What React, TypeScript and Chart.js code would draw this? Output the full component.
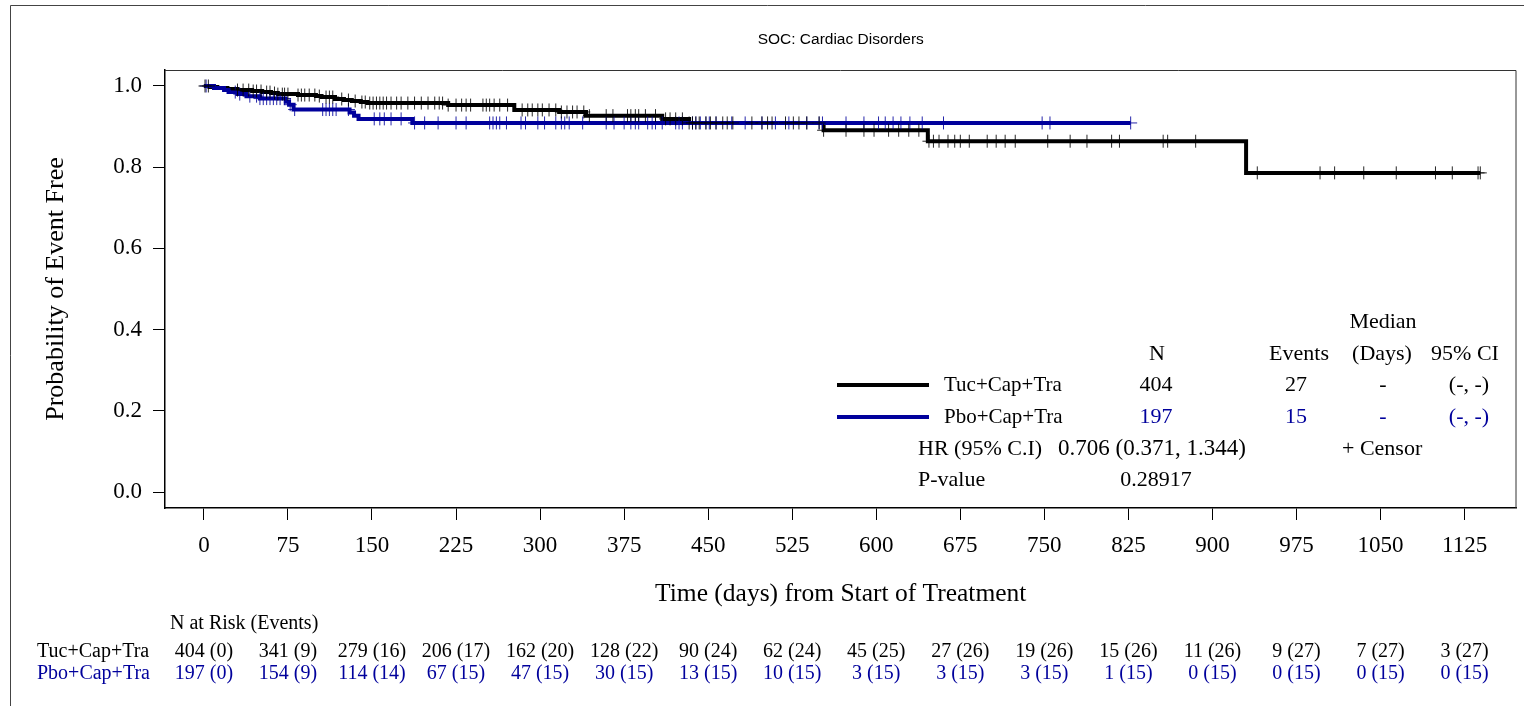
import React, { useEffect, useRef } from 'react';
import { Chart, registerables } from 'chart.js';

Chart.register(...registerables);

// ---------- text ----------
const TITLE = 'SOC: Cardiac Disorders';
const X_TITLE = 'Time (days) from Start of Treatment';
const Y_TITLE = 'Probability of Event Free';
const RISK_HEADER = 'N at Risk (Events)';
const groups = ['Tuc+Cap+Tra', 'Pbo+Cap+Tra'];
const groupColors = ['#000000', '#00009C'];

// ---------- axes ----------
const xTickValues = [0, 75, 150, 225, 300, 375, 450, 525, 600, 675, 750, 825, 900, 975, 1050, 1125];
const yTickValues = [0, 0.2, 0.4, 0.6, 0.8, 1.0];

// ---------- Kaplan-Meier steps (day, survival) ----------
const tucStepDays = [0, 5, 12, 21, 30, 43, 52, 60, 66, 84, 100, 105, 117, 125, 132, 140, 146, 218, 277, 317, 341, 409, 433, 553, 646, 930, 1139];
const tucStepSurv = [1.0, 0.9975, 0.995, 0.9926, 0.990, 0.9876, 0.985, 0.9826, 0.980, 0.9777, 0.9752, 0.9728, 0.9679, 0.9654, 0.963, 0.9605, 0.958, 0.953, 0.941, 0.936, 0.927, 0.919, 0.909, 0.891, 0.864, 0.786, 0.786];

const pboStepDays = [0, 9, 18, 22, 30, 38, 50, 73, 76, 80, 130, 134, 138, 186, 827];
const pboStepSurv = [1.0, 0.995, 0.990, 0.985, 0.980, 0.975, 0.969, 0.961, 0.954, 0.942, 0.935, 0.927, 0.919, 0.909, 0.909];

// ---------- censor times (days) ----------
const tucCensorDays = [1, 4, 30, 35, 40, 44, 47, 51, 56, 59, 63, 66, 70, 72, 75, 84, 87, 90, 94, 99, 103, 109, 112, 115, 123, 129, 135, 141, 144, 148, 151, 154, 157, 160, 163, 167, 172, 176, 182, 188, 194, 200, 206, 210, 213, 218, 225, 230, 234, 238, 249, 252, 255, 259, 264, 271, 284, 289, 293, 298, 302, 308, 314, 319, 324, 329, 333, 339, 344, 359, 365, 378, 381, 385, 388, 394, 403, 412, 416, 421, 427, 433, 436, 439, 442, 448, 452, 457, 463, 467, 472, 489, 498, 503, 507, 519, 526, 531, 538, 549, 553, 573, 589, 598, 611, 620, 629, 638, 647, 651, 656, 664, 670, 675, 683, 699, 707, 715, 724, 753, 773, 788, 810, 817, 856, 860, 885, 940, 996, 1009, 1035, 1064, 1099, 1114, 1137, 1139];
const pboCensorDays = [2, 28, 32, 41, 47, 50, 53, 56, 59, 62, 65, 68, 72, 77, 81, 106, 109, 112, 115, 118, 129, 152, 157, 161, 167, 176, 188, 197, 209, 225, 234, 255, 258, 261, 264, 270, 283, 287, 298, 304, 314, 319, 322, 326, 338, 359, 366, 375, 381, 385, 388, 396, 400, 403, 409, 421, 424, 427, 436, 439, 443, 448, 451, 457, 471, 483, 498, 510, 522, 538, 549, 552, 573, 589, 602, 608, 615, 622, 630, 641, 660, 748, 755, 827];

// ---------- number at risk table ----------
const riskTimes = xTickValues;
const tucAtRisk = [404, 341, 279, 206, 162, 128, 90, 62, 45, 27, 19, 15, 11, 9, 7, 3];
const tucEvents = [0, 9, 16, 17, 20, 22, 24, 24, 25, 26, 26, 26, 26, 27, 27, 27];
const pboAtRisk = [197, 154, 114, 67, 47, 30, 13, 10, 3, 3, 3, 1, 0, 0, 0, 0];
const pboEvents = [0, 9, 14, 15, 15, 15, 15, 15, 15, 15, 15, 15, 15, 15, 15, 15];

// ---------- legend table ----------
const legendN = ['404', '197'];
const legendEvents = ['27', '15'];
const legendMedian = ['-', '-'];
const legendCI = ['(-, -)', '(-, -)'];
const HR_LABEL = 'HR (95% C.I)';
const HR_TEXT = '0.706 (0.371, 1.344)';
const P_LABEL = 'P-value';
const P_TEXT = '0.28917';
const CENSOR_TEXT = '+ Censor';

const SERIF = "'Liberation Serif', 'Times New Roman', serif";
const SANS = "'Liberation Sans', Arial, sans-serif";

function survAt(days: number[], surv: number[], t: number): number {
  let s = surv[0];
  for (let i = 0; i < days.length; i++) {
    if (days[i] <= t) s = surv[i];
  }
  return s;
}

const decorPlugin = {
  id: 'decor',
  afterDraw(chart: any) {
    const ctx = chart.ctx as CanvasRenderingContext2D;
    const area = chart.chartArea;
    const xs = chart.scales.x;
    ctx.save();

    // outer frame
    ctx.strokeStyle = '#444';
    ctx.lineWidth = 1;
    ctx.beginPath();
    ctx.moveTo(10.5, 706);
    ctx.lineTo(10.5, 5.5);
    ctx.lineTo(1524, 5.5);
    ctx.stroke();

    // plot frame (top and right)
    ctx.strokeStyle = '#333';
    ctx.beginPath();
    ctx.moveTo(area.left, area.top + 0.5);
    ctx.lineTo(area.right - 0.5, area.top + 0.5);
    ctx.lineTo(area.right - 0.5, area.bottom);
    ctx.stroke();

    // title
    ctx.fillStyle = '#000';
    ctx.textBaseline = 'middle';
    ctx.textAlign = 'center';
    ctx.font = `15.5px ${SANS}`;
    ctx.fillText(TITLE, (area.left + area.right) / 2, 40);

    // axis titles
    ctx.font = `25.5px ${SERIF}`;
    ctx.fillText(X_TITLE, (area.left + area.right) / 2, 594);
    ctx.font = `26px ${SERIF}`;
    ctx.save();
    ctx.translate(56, (area.top + area.bottom) / 2);
    ctx.rotate(-Math.PI / 2);
    ctx.fillText(Y_TITLE, 0, 0);
    ctx.restore();

    // legend table
    ctx.font = `22px ${SERIF}`;
    ctx.textAlign = 'center';
    ctx.fillStyle = '#000';
    ctx.fillText('Median', 1383, 322);
    ctx.fillText('N', 1157, 354);
    ctx.fillText('Events', 1299, 354);
    ctx.fillText('(Days)', 1382, 354);
    ctx.fillText('95% CI', 1465, 354);
    const rowY = [385, 417];
    for (let g = 0; g < 2; g++) {
      const y = rowY[g];
      ctx.strokeStyle = groupColors[g];
      ctx.lineWidth = 4;
      ctx.beginPath();
      ctx.moveTo(837, y);
      ctx.lineTo(929, y);
      ctx.stroke();
      ctx.fillStyle = '#000';
      ctx.textAlign = 'left';
      ctx.font = `21px ${SERIF}`;
      ctx.fillText(groups[g], 944, y);
      ctx.font = `22px ${SERIF}`;
      ctx.fillStyle = groupColors[g];
      ctx.textAlign = 'center';
      ctx.fillText(legendN[g], 1156, y);
      ctx.fillText(legendEvents[g], 1296, y);
      ctx.fillText(legendMedian[g], 1383, y);
      ctx.fillText(legendCI[g], 1469, y);
    }
    ctx.fillStyle = '#000';
    ctx.textAlign = 'left';
    ctx.fillText(HR_LABEL, 918, 449);
    ctx.font = `23px ${SERIF}`;
    ctx.fillText(HR_TEXT, 1058, 449);
    ctx.font = `22px ${SERIF}`;
    ctx.fillText(CENSOR_TEXT, 1342, 449);
    ctx.fillText(P_LABEL, 918, 480);
    ctx.textAlign = 'center';
    ctx.fillText(P_TEXT, 1156, 480);

    // number at risk
    ctx.font = `20px ${SERIF}`;
    ctx.textAlign = 'left';
    ctx.fillStyle = '#000';
    ctx.fillText(RISK_HEADER, 170, 624);
    const riskRows = [
      { y: 652, n: tucAtRisk, e: tucEvents },
      { y: 674, n: pboAtRisk, e: pboEvents },
    ];
    ctx.font = `20px ${SERIF}`;
    riskRows.forEach((row, g) => {
      ctx.fillStyle = groupColors[g];
      ctx.textAlign = 'left';
      ctx.fillText(groups[g], 37, row.y);
      ctx.textAlign = 'center';
      riskTimes.forEach((t, i) => {
        ctx.fillText(`${row.n[i]} (${row.e[i]})`, xs.getPixelForValue(t), row.y);
      });
    });

    ctx.restore();
  },
};

export default function App() {
  const ref = useRef<HTMLCanvasElement>(null);

  useEffect(() => {
    const tucLine = tucStepDays.map((d, i) => ({ x: d, y: tucStepSurv[i] }));
    const pboLine = pboStepDays.map((d, i) => ({ x: d, y: pboStepSurv[i] }));
    const tucCens = tucCensorDays.map((d) => ({ x: d, y: survAt(tucStepDays, tucStepSurv, d) }));
    const pboCens = pboCensorDays.map((d) => ({ x: d, y: survAt(pboStepDays, pboStepSurv, d) }));

    const tickFont = { family: SERIF, size: 23 };

    const chart = new Chart(ref.current as HTMLCanvasElement, {
      type: 'line',
      data: {
        datasets: [
          {
            label: 'tucCensor',
            data: tucCens,
            showLine: false,
            pointStyle: 'cross',
            pointRadius: 6.5,
            pointHoverRadius: 6.5,
            pointBorderColor: 'rgba(0,0,0,0.85)',
            pointBorderWidth: 1,
          },
          {
            label: 'pboCensor',
            data: pboCens,
            showLine: false,
            pointStyle: 'cross',
            pointRadius: 6.5,
            pointHoverRadius: 6.5,
            pointBorderColor: 'rgba(0,0,156,0.85)',
            pointBorderWidth: 1,
          },
          {
            label: groups[1],
            data: pboLine,
            stepped: true,
            borderColor: groupColors[1],
            borderWidth: 4,
            pointRadius: 0,
            fill: false,
          },
          {
            label: groups[0],
            data: tucLine,
            stepped: true,
            borderColor: groupColors[0],
            borderWidth: 4,
            pointRadius: 0,
            fill: false,
          },
        ] as any,
      },
      options: {
        animation: false,
        responsive: false,
        events: [],
        layout: { padding: { top: 70, right: 5, left: 0, bottom: 0 } },
        plugins: {
          legend: { display: false },
          tooltip: { enabled: false },
          title: { display: false },
        },
        scales: {
          x: {
            type: 'linear',
            min: -34.7,
            max: 1171.3,
            afterBuildTicks: (ax: any) => {
              ax.ticks = xTickValues.map((v) => ({ value: v }));
            },
            afterFit: (ax: any) => {
              ax.height = 198;
            },
            ticks: {
              autoSkip: false,
              maxRotation: 0,
              minRotation: 0,
              padding: 12,
              color: '#000',
              font: tickFont,
              callback: (v: any) => String(v),
            },
            grid: { drawOnChartArea: false, tickLength: 12, color: '#000', lineWidth: 1 },
            border: { display: true, color: '#000', width: 1.5 },
          },
          y: {
            type: 'linear',
            min: -0.0394,
            max: 1.0394,
            afterBuildTicks: (ax: any) => {
              ax.ticks = yTickValues.map((v) => ({ value: v }));
            },
            afterFit: (ax: any) => {
              ax.width = 165;
            },
            ticks: {
              padding: 11,
              color: '#000',
              font: tickFont,
              callback: (v: any) => Number(v).toFixed(1),
            },
            grid: { drawOnChartArea: false, tickLength: 12, color: '#000', lineWidth: 1 },
            border: { display: true, color: '#000', width: 1.5 },
          },
        },
      } as any,
      plugins: [decorPlugin],
    });

    return () => chart.destroy();
  }, []);

  return (
    <div style={{ position: 'absolute', left: 0, top: 0, width: 1524, height: 706, background: '#fff' }}>
      <canvas ref={ref} width={1524} height={706} style={{ display: 'block', width: 1524, height: 706 }} />
    </div>
  );
}
